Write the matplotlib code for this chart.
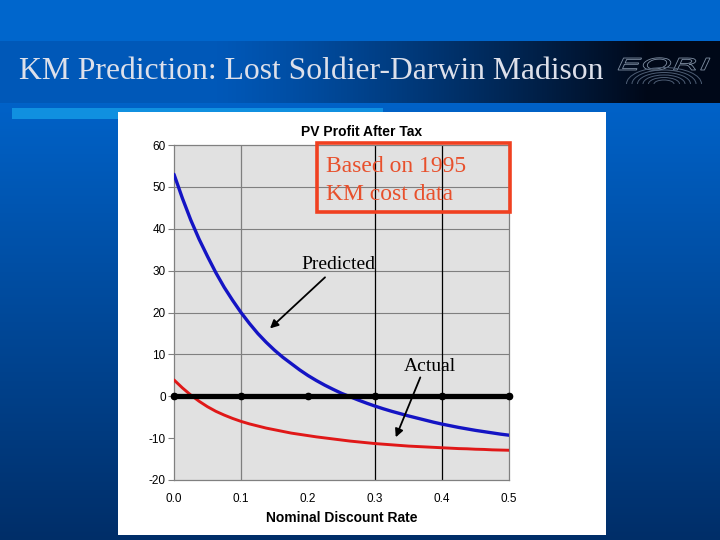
import numpy as np
import matplotlib
matplotlib.use("Agg")
import matplotlib.pyplot as plt
from matplotlib.patches import Rectangle, PathPatch, Arc
from matplotlib.textpath import TextPath
from matplotlib.font_manager import FontProperties
from matplotlib.transforms import Affine2D

plt.rcParams["axes.unicode_minus"] = False

# ---------------- data ----------------
rate = [0.0, 0.0125, 0.025, 0.0375, 0.05, 0.0625, 0.075, 0.0875, 0.1, 0.1125,
        0.125, 0.1375, 0.15, 0.1625, 0.175, 0.1875, 0.2, 0.2125, 0.225, 0.2375,
        0.25, 0.2625, 0.275, 0.2875, 0.3, 0.3125, 0.325, 0.3375, 0.35, 0.3625,
        0.375, 0.3875, 0.4, 0.4125, 0.425, 0.4375, 0.45, 0.4625, 0.475, 0.4875,
        0.5]
predicted = [53.0, 47.3, 42.1, 37.5, 33.4, 29.5, 26.0, 22.9, 20.0, 17.4,
             15.0, 12.9, 11.0, 9.3, 7.8, 6.3, 4.95, 3.75, 2.65, 1.65,
             0.7, -0.1, -0.9, -1.65, -2.35, -3.0, -3.6, -4.15, -4.7, -5.2,
             -5.7, -6.2, -6.65, -7.05, -7.45, -7.8, -8.15, -8.45, -8.75, -9.05,
             -9.3]
actual = [3.9, 2.0, 0.3, -1.2, -2.5, -3.6, -4.5, -5.3, -6.0, -6.6,
          -7.1, -7.6, -8.0, -8.4, -8.8, -9.1, -9.4, -9.7, -9.95, -10.2,
          -10.45, -10.7, -10.9, -11.1, -11.3, -11.45, -11.6, -11.75, -11.9, -12.0,
          -12.1, -12.2, -12.3, -12.4, -12.5, -12.55, -12.65, -12.7, -12.8, -12.85,
          -12.9]
breakeven_x = [0.0, 0.1, 0.2, 0.3, 0.4, 0.5]
breakeven_y = [0, 0, 0, 0, 0, 0]

y_ticks = [-20, -10, 0, 10, 20, 30, 40, 50, 60]
x_ticks = [0.0, 0.1, 0.2, 0.3, 0.4, 0.5]
x_tick_labels = ["0.0", "0.1", "0.2", "0.3", "0.4", "0.5"]
h_grid = [10, 20, 30, 40, 50]
v_grid = [0.1, 0.3, 0.4]
v_grid_colors = ["#7f7f7f", "black", "black"]

slide_title = "KM Prediction: Lost Soldier-Darwin Madison"
chart_title = "PV Profit After Tax"
x_label = "Nominal Discount Rate"
note_lines = ["Based on 1995", "KM cost data"]
logo_text = "EORI"

# ---------------- figure & slide background ----------------
W, H = 720, 540
fig = plt.figure(figsize=(7.2, 5.4), dpi=100)

bg = fig.add_axes([0, 0, 1, 1])
bg.axis("off")
yy = np.arange(H)[:, None, None]
t = np.clip((yy - 103) / (H - 103), 0, 1)
top = np.array([0, 98, 200]) / 255
bot = np.array([0, 46, 104]) / 255
img = np.ones((H, W, 3)) * (top * (1 - t) + bot * t)
img[:41] = np.array([0, 102, 204]) / 255
s = np.arange(W) / W
w = np.clip((s - 0.3) / 0.6, 0, 1) ** 1.2
left = np.array([0, 88, 184]) / 255
right = np.array([0, 8, 24]) / 255
band = left * (1 - w[:, None]) + right * w[:, None]
img[41:103] = band[None, :, :]
bg.imshow(img, extent=[0, W, H, 0], aspect="auto", interpolation="bilinear")
bg.set_xlim(0, W)
bg.set_ylim(H, 0)

bg.add_patch(Rectangle((12, 108), 371, 11, color="#1090e0", lw=0))
bg.add_patch(Rectangle((118, 112), 488, 423, color="white", lw=0))
bg.text(19, 79, slide_title, fontsize=22.8, family="Liberation Serif",
        color="#dde0ea", va="baseline", ha="left")

# logo: outlined, stretched letters + swirl
tp = TextPath((0, 0), logo_text, size=1,
              prop=FontProperties(family="DejaVu Sans", style="italic"))
ext = tp.get_extents()
sx = 92 / ext.width
sy = 12 / 0.73
tr = Affine2D().translate(-ext.x0, 0).scale(sx, -sy).translate(618, 70)
bg.add_patch(PathPatch(tr.transform_path(tp), facecolor="none",
                       edgecolor="#8090a4", lw=0.6))
for k in range(6):
    bg.add_patch(Arc((664, 84), 20 + 11 * k, 8 + 5 * k, theta1=180, theta2=360,
                     color="#4d5d74", lw=0.7))

# ---------------- chart ----------------
ax = fig.add_axes([174 / W, 1 - 480 / H, 335 / W, 335 / H])
ax.set_facecolor("#e1e1e1")
ax.set_xlim(0, 0.5)
ax.set_ylim(-20, 60)
for yv in h_grid:
    ax.axhline(yv, color="#7f7f7f", lw=0.8, zorder=1)
for xv, c in zip(v_grid, v_grid_colors):
    ax.axvline(xv, color=c, lw=0.9, zorder=1)

ax.plot(rate, predicted, color="#1414c4", lw=2.4, zorder=3,
        solid_joinstyle="round", solid_capstyle="round")
ax.plot(rate, actual, color="#e01818", lw=2.1, zorder=3,
        solid_joinstyle="round", solid_capstyle="round")
ax.plot(breakeven_x, breakeven_y, color="black", lw=3.8, marker="o",
        ms=4.5, zorder=4, clip_on=False)

ax.set_yticks(y_ticks)
ax.set_xticks(x_ticks)
ax.set_xticklabels(x_tick_labels)
for sp in ax.spines.values():
    sp.set_color("#808080")
    sp.set_linewidth(0.9)
ax.tick_params(axis="y", direction="out", length=4, width=0.8,
               color="#808080", pad=2, labelsize=8.5)
ax.tick_params(axis="x", length=0, pad=9, labelsize=8.5)
for lab in ax.get_xticklabels() + ax.get_yticklabels():
    lab.set_family("Liberation Sans")

tfont = dict(family="Liberation Serif", fontsize=14, color="black")
arrow = dict(arrowstyle="-|>", color="black", lw=1.3, mutation_scale=12,
             shrinkA=0, shrinkB=0)
ax.text(0.1896, 30.3, "Predicted", ha="left", va="baseline", **tfont)
ax.annotate("", xy=(0.1433, 16.2), xytext=(0.2254, 28.4), arrowprops=arrow)
ax.text(0.3428, 5.97, "Actual", ha="left", va="baseline", **tfont)
ax.annotate("", xy=(0.331, -9.8), xytext=(0.3676, 4.5), arrowprops=arrow)

fig.text(362 / W, 1 - 132 / H, chart_title, family="Liberation Sans",
         fontweight="bold", fontsize=10, ha="center", va="center")
fig.text(342 / W, 1 - 518 / H, x_label, family="Liberation Sans",
         fontweight="bold", fontsize=10, ha="center", va="center")

# ---------------- overlay (note box) ----------------
ov = fig.add_axes([0, 0, 1, 1], zorder=10)
ov.axis("off")
ov.patch.set_alpha(0)
ov.set_xlim(0, W)
ov.set_ylim(H, 0)
ov.add_patch(Rectangle((317, 143), 193, 69, fill=False, edgecolor="#f04020",
                       lw=2.6))
ov.text(326, 171.7, note_lines[0], family="Liberation Serif", fontsize=17,
        color="#e8502c", va="baseline", ha="left")
ov.text(326, 200, note_lines[1], family="Liberation Serif", fontsize=17,
        color="#e8502c", va="baseline", ha="left")

fig.savefig("out.png", dpi=100)
